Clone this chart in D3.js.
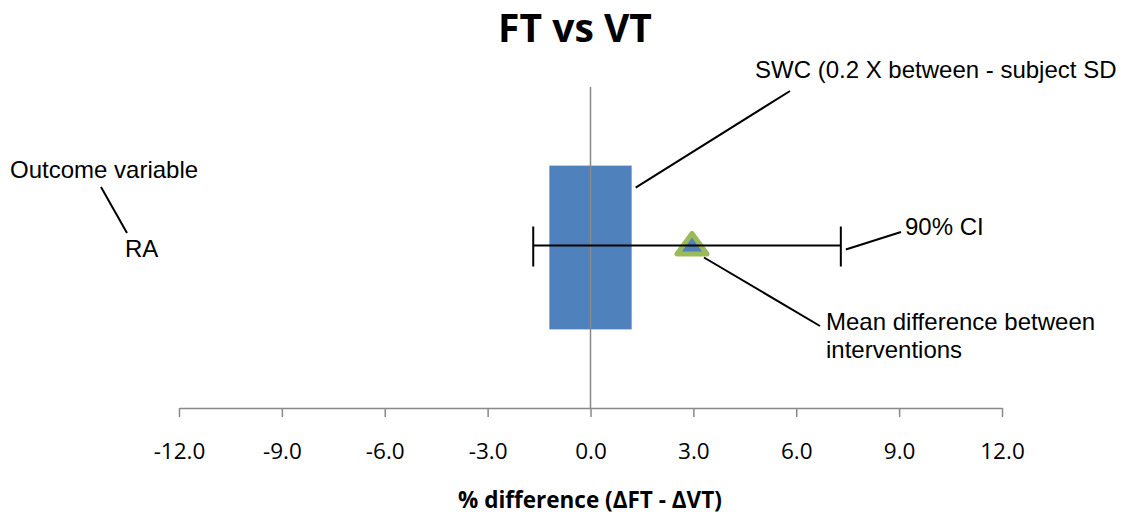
<!DOCTYPE html>
<html>
<head>
<meta charset="utf-8">
<script src="https://cdn.jsdelivr.net/npm/d3@7"></script>
<style>
  body { margin: 0; background: #fff; }
  svg { display: block; }
  .tick text { font-family: "Open Sans", sans-serif; }
  .note { font-family: "Liberation Sans", Arial, sans-serif; font-size: 24px; fill: #000; }
</style>
</head>
<body>
<div id="chart"></div>
<script>
// chart values
var outcomes = ["RA"];
var meanDiff = [2.96];
var ciLow = [-1.67];
var ciHigh = [7.3];
var swc = [1.2];
var xTicks = [-12, -9, -6, -3, 0, 3, 6, 9, 12];

var W = 1125, H = 517;
var mLeft = 179, mRight = 1002, mTop = 87, mBottom = 408;

var svg = d3.select("#chart").append("svg")
    .attr("width", W)
    .attr("height", H);

var x = d3.scaleLinear().domain([-12, 12]).range([mLeft, mRight]);
var y = d3.scaleBand().domain(outcomes).range([mTop, mBottom])
    .paddingInner(0).paddingOuter(0.48);

// swc box
svg.selectAll("rect.swc").data(outcomes).enter().append("rect")
    .attr("class", "swc")
    .attr("x", function(d, i){ return x(-swc[i]); })
    .attr("y", function(d){ return y(d); })
    .attr("width", function(d, i){ return x(swc[i]) - x(-swc[i]); })
    .attr("height", y.bandwidth())
    .style("fill", "#4f81bd");

// zero line
svg.append("line")
    .attr("x1", x(0)).attr("x2", x(0))
    .attr("y1", mTop).attr("y2", mBottom)
    .style("stroke", "#898989")
    .style("stroke-width", 1.5);

// x axis
var axis = d3.axisBottom(x).tickValues(xTicks).tickSize(9).tickSizeOuter(0)
    .tickFormat(d3.format(".1f"));
var gx = svg.append("g")
    .attr("transform", "translate(0," + mBottom + ")")
    .call(axis);
gx.select(".domain").style("stroke", "#898989").style("stroke-width", 1.5);
gx.selectAll(".tick line").style("stroke", "#898989").style("stroke-width", 1.5);
gx.selectAll(".tick text")
    .attr("y", 51)
    .attr("dy", 0)
    .style("font-size", "22.5px")
    .style("fill", "#000")
    .text(function(d){ return d3.format(".1f")(d).replace("−", "-"); });

// marker, ci and callouts
outcomes.forEach(function(o, i){
    var cx = x(meanDiff[i]), cy = y(o) + y.bandwidth() / 2 - 2;
    svg.append("path")
        .attr("d", "M" + (cx - 15) + "," + (cy + 8.5) + "L" + (cx + 15) + "," + (cy + 8.5) + "L" + cx + "," + (cy - 12) + "Z")
        .style("fill", "#4f81bd")
        .style("stroke", "#9bbb59")
        .style("stroke-width", 5)
        .style("stroke-linejoin", "round");

    svg.append("line")
        .attr("x1", x(ciLow[i])).attr("x2", x(ciHigh[i]))
        .attr("y1", cy).attr("y2", cy)
        .style("stroke", "#000").style("stroke-width", 2);
    [ciLow[i], ciHigh[i]].forEach(function(v){
        svg.append("line")
            .attr("x1", x(v)).attr("x2", x(v))
            .attr("y1", cy - 19).attr("y2", cy + 21)
            .style("stroke", "#000").style("stroke-width", 2);
    });

    svg.append("text").attr("class", "note")
        .attr("x", 125).attr("y", cy + 11)
        .text(o);

    var notes = svg.append("g").style("stroke", "#000").style("stroke-width", 2);
    notes.append("line").attr("x1", 101).attr("y1", 187).attr("x2", 127).attr("y2", 233);
    notes.append("line").attr("x1", x(swc[i]) + 4).attr("y1", y(o) + 22).attr("x2", 790).attr("y2", 91);
    notes.append("line").attr("x1", x(ciHigh[i]) + 5).attr("y1", cy + 4).attr("x2", 901).attr("y2", 232);
    notes.append("line").attr("x1", cx + 12).attr("y1", cy + 12).attr("x2", 820).attr("y2", 326);
});

svg.append("text").attr("class", "note").attr("x", 10).attr("y", 178).text("Outcome variable");
svg.append("text").attr("class", "note").attr("x", 755).attr("y", 78).text("SWC (0.2 X between - subject SD");
svg.append("text").attr("class", "note").attr("x", 905).attr("y", 235).text("90% CI");
svg.append("text").attr("class", "note").attr("x", 826).attr("y", 330).text("Mean difference between");
svg.append("text").attr("class", "note").attr("x", 826).attr("y", 358).text("interventions");

// titles
svg.append("text")
    .attr("x", 575).attr("y", 42)
    .attr("text-anchor", "middle")
    .style("font-family", "'Open Sans', sans-serif")
    .style("font-weight", "bold")
    .style("font-size", "39px")
    .text("FT vs VT");

svg.append("text")
    .attr("x", 590).attr("y", 508)
    .attr("text-anchor", "middle")
    .style("font-family", "'Open Sans', sans-serif")
    .style("font-weight", "bold")
    .style("font-size", "22.5px")
    .text("% difference (ΔFT - ΔVT)");
</script>
</body>
</html>
